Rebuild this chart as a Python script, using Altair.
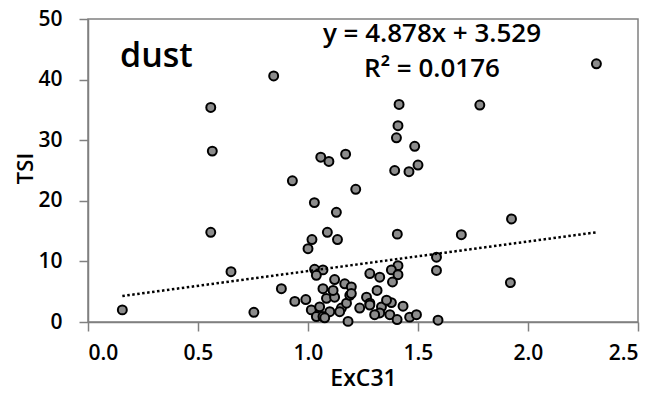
import altair as alt
import pandas as pd

# ---- data ----
exc31 = [0.156, 0.754, 0.558, 0.565, 0.558, 0.65, 0.844, 0.879, 0.929, 0.94,
         0.99, 1.0, 1.018, 1.029, 1.058, 1.095, 1.171, 1.217, 1.129, 1.088,
         1.134, 1.414, 1.409, 1.402, 1.485, 1.5, 1.394, 1.459, 1.781, 2.311,
         1.925, 1.406, 1.697, 1.584, 1.584, 1.92, 1.591,
         1.03, 1.068, 1.038, 1.281, 1.409, 1.379, 1.409, 1.326, 1.384,
         1.121, 1.167, 1.068, 1.314, 1.084, 1.015, 1.038, 1.099, 1.121, 1.152,
         1.175, 1.182, 1.19, 1.197, 1.235, 1.266, 1.281, 1.334, 1.326, 1.379,
         1.372, 1.405, 1.432, 1.462, 1.493, 1.053, 1.068, 1.114, 1.144, 1.197,
         1.076, 1.303, 1.357, 1.281]
tsi = [2.0, 1.6, 35.4, 28.2, 14.8, 8.3, 40.6, 5.5, 23.3, 3.4,
       3.7, 12.1, 13.6, 19.7, 27.2, 26.5, 27.7, 21.9, 18.1, 14.8,
       13.6, 35.9, 32.4, 30.4, 29.0, 25.9, 25.0, 24.8, 35.8, 42.6,
       17.0, 14.5, 14.4, 10.7, 8.5, 6.5, 0.3,
       8.7, 8.6, 7.7, 8.0, 9.3, 8.6, 7.8, 7.4, 6.6,
       7.0, 6.3, 5.5, 5.2, 3.9, 2.0, 0.9, 1.7, 4.1, 2.3,
       3.1, 0.1, 4.4, 5.8, 2.3, 4.1, 3.1, 2.5, 1.5, 3.2,
       1.2, 0.4, 2.6, 0.8, 1.2, 2.5, 0.9, 5.2, 1.7, 4.7,
       0.7, 1.2, 3.6, 2.8]

slope = 4.878
intercept = 3.529
eq_line1 = "y = 4.878x + 3.529"
eq_line2 = "R² = 0.0176"
panel_label = "dust"
x_title = "ExC31"
y_title = "TSI"
x_ticks = [0.0, 0.5, 1.0, 1.5, 2.0, 2.5]
y_ticks = [0, 5, 10, 15, 20, 25, 30, 35, 40, 45, 50]

df = pd.DataFrame({"ExC31": exc31, "TSI": tsi})
x_lo, x_hi = min(exc31), max(exc31)
trend = pd.DataFrame({"ExC31": [x_lo, x_hi],
                      "TSI": [slope * x_lo + intercept, slope * x_hi + intercept]})

FONT = "Open Sans"
AXC = "#808080"

xscale = alt.Scale(domain=[0, 2.5], nice=False, zero=False)
yscale = alt.Scale(domain=[0, 50], nice=False)

xaxis = alt.Axis(values=x_ticks, format=".1f", grid=False, tickSize=9,
                 labelPadding=28, labelBaseline="alphabetic",
                 title=x_title, titleY=63, titleBaseline="alphabetic",
                 titleFontSize=23)
yaxis = alt.Axis(values=y_ticks, grid=False, tickSize=9, labelPadding=17,
                 labelExpr="datum.value % 10 === 0 ? datum.label : ''",
                 title=y_title, titleX=-56, titleY=149, titleAngle=270,
                 titleBaseline="alphabetic", titleFontSize=22)

points = alt.Chart(df).mark_point(
    filled=True, shape="circle", size=80, fill="#8c8c8c", stroke="black",
    strokeWidth=2, opacity=1
).encode(
    x=alt.X("ExC31:Q", scale=xscale, axis=xaxis),
    y=alt.Y("TSI:Q", scale=yscale, axis=yaxis),
)

line = alt.Chart(trend).mark_line(
    color="black", strokeWidth=2.5, strokeDash=[2.5, 2.5]
).encode(
    x=alt.X("ExC31:Q", scale=xscale),
    y=alt.Y("TSI:Q", scale=yscale),
)

lbl = alt.Chart(pd.DataFrame({"t": [panel_label]})).mark_text(
    font=FONT, fontSize=34, fontWeight=600, align="left",
    baseline="alphabetic", color="black"
).encode(text="t:N", x=alt.value(32), y=alt.value(48))

eq1 = alt.Chart(pd.DataFrame({"t": [eq_line1]})).mark_text(
    font=FONT, fontSize=26, fontWeight=600, align="center",
    baseline="alphabetic", color="black"
).encode(text="t:N", x=alt.value(344), y=alt.value(23))

eq2 = alt.Chart(pd.DataFrame({"t": [eq_line2]})).mark_text(
    font=FONT, fontSize=26, fontWeight=600, align="center",
    baseline="alphabetic", color="black"
).encode(text="t:N", x=alt.value(344), y=alt.value(58))

chart = alt.layer(points, line, lbl, eq1, eq2).properties(
    width=550, height=303,
    autosize=alt.AutoSizeParams(type="none"),
    padding={"left": 80, "top": 11, "right": 10, "bottom": 71},
).configure_view(
    stroke=AXC, strokeWidth=1.5
).configure_axis(
    domainColor=AXC, domainWidth=1.5, tickColor=AXC, tickWidth=1.5,
    labelFont=FONT, labelFontSize=21, labelFontWeight=600, labelColor="black",
    titleFont=FONT, titleFontSize=24, titleFontWeight=600, titleColor="black",
)

chart.save("out.html", embed_options={"renderer": "svg", "actions": False})
